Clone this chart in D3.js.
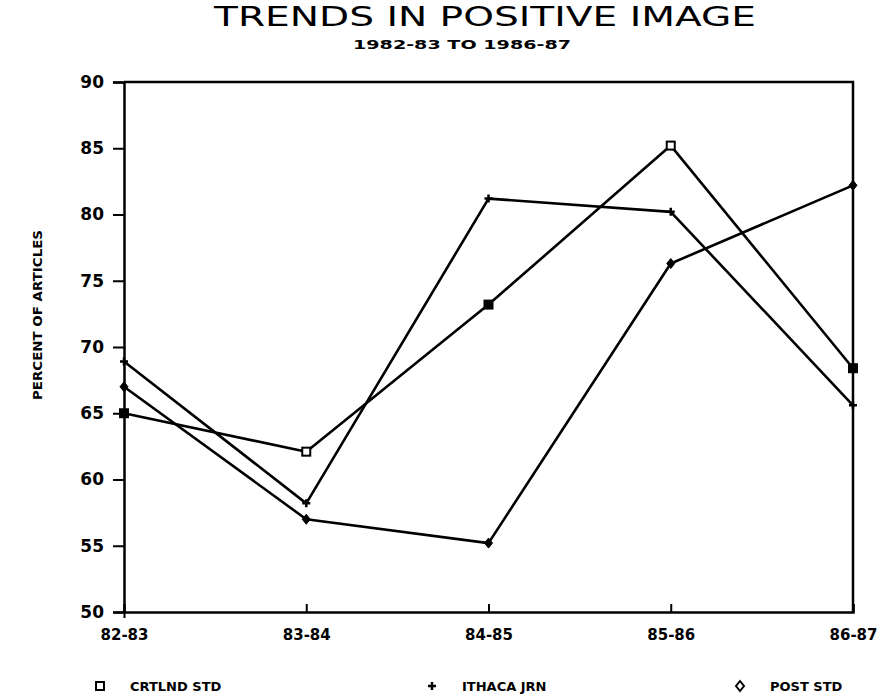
<!DOCTYPE html>
<html>
<head>
<meta charset="utf-8">
<script src="https://cdn.jsdelivr.net/npm/d3@7"></script>
<style>
body { margin: 0; background: #fff; }
</style>
</head>
<body>
<div id="chart"></div>
<script>
var years = ["82-83", "83-84", "84-85", "85-86", "86-87"];
var crtlnd = [65, 62.1, 73.2, 85.2, 68.4];
var ithaca = [68.9, 58.2, 81.2, 80.2, 65.6];
var post = [67, 57, 55.2, 76.3, 82.2];
var yTicks = [50, 55, 60, 65, 70, 75, 80, 85, 90];
var seriesNames = ["CRTLND STD", "ITHACA JRN", "POST STD"];

var w = 893, h = 700;
// plot box edges (not "top": window.top is taken)
var pLeft = 124, pRight = 853, pTop = 82, pBottom = 612;

var svg = d3.select("#chart").append("svg")
   .attr("width", w).attr("height", h);

var x = d3.scalePoint().domain(years).range([pLeft, pRight]);
var y = d3.scaleLinear().domain([50, 90]).range([pBottom, pTop]);

// title
svg.append("text").attr("x", 485).attr("y", 26).attr("text-anchor", "middle")
   .attr("font-family", "DejaVu Sans").attr("font-size", 27)
   .attr("textLength", 542).attr("lengthAdjust", "spacingAndGlyphs")
   .text("TRENDS IN POSITIVE IMAGE");
svg.append("text").attr("x", 462).attr("y", 49).attr("text-anchor", "middle")
   .attr("font-family", "DejaVu Sans").attr("font-weight", "bold").attr("font-size", 13)
   .attr("textLength", 218).attr("lengthAdjust", "spacingAndGlyphs")
   .text("1982-83 TO 1986-87");

// frame top + right
svg.append("path").attr("d", "M" + pLeft + "," + pTop + "H" + pRight + "V" + pBottom)
   .attr("fill", "none").attr("stroke", "#000").attr("stroke-width", 2.5);

// axes
var yAxis = svg.append("g").attr("transform", "translate(" + pLeft + ",0)")
   .call(d3.axisLeft(y).tickValues(yTicks).tickSize(11).tickPadding(9).tickFormat(d3.format("d")));
var xAxis = svg.append("g").attr("transform", "translate(0," + pBottom + ")")
   .call(d3.axisBottom(x).tickSize(-8).tickPadding(17));

svg.selectAll(".domain").attr("stroke-width", 2.5);
svg.selectAll(".tick line").attr("stroke-width", 2);
yAxis.selectAll("text").attr("font-family", "DejaVu Sans").attr("font-weight", "bold")
   .attr("font-size", 17).attr("fill", "#000");
xAxis.selectAll("text").attr("font-family", "DejaVu Sans").attr("font-weight", "bold")
   .attr("font-size", 15).attr("fill", "#000");
// 82-83 tick crosses below axis
xAxis.selectAll(".tick line").attr("y2", function(d, i) { return i == 0 ? 6 : -8; });

// y axis title
svg.append("text").attr("transform", "translate(42,315) rotate(-90)")
   .attr("text-anchor", "middle").attr("font-family", "DejaVu Sans").attr("font-weight", "bold")
   .attr("font-size", 13).attr("textLength", 170).attr("lengthAdjust", "spacingAndGlyphs")
   .text("PERCENT OF ARTICLES");

var line = d3.line().x(function(d, i) { return x(years[i]); }).y(function(d) { return y(d); });

[crtlnd, ithaca, post].forEach(function(s) {
   svg.append("path").datum(s).attr("d", line)
      .attr("fill", "none").attr("stroke", "#000").attr("stroke-width", 2.6)
      .attr("stroke-linejoin", "round");
});

// markers
function square(g, cx, cy, filled) {
   g.append("rect").attr("x", cx - 4).attr("y", cy - 4).attr("width", 8).attr("height", 8)
      .attr("fill", filled ? "#000" : "#fff").attr("stroke", "#000").attr("stroke-width", 2);
}
function plus(g, cx, cy) {
   g.append("path").attr("d", "M" + (cx - 4) + "," + cy + "h8M" + cx + "," + (cy - 4) + "v8")
      .attr("stroke", "#000").attr("stroke-width", 2.5);
}
function diamond(g, cx, cy, open) {
   g.append("path").attr("d", "M" + cx + "," + (cy - 5) + "l4,5l-4,5l-4,-5z")
      .attr("fill", open ? "#fff" : "#000").attr("stroke", "#000").attr("stroke-width", open ? 2 : 1);
}

var marks = svg.append("g");
// ink has filled in some of the open squares in the print
crtlnd.forEach(function(d, i) { square(marks, x(years[i]), y(d), i % 2 == 0); });
ithaca.forEach(function(d, i) { plus(marks, x(years[i]), y(d)); });
post.forEach(function(d, i) { diamond(marks, x(years[i]), y(d), false); });

// legend
var legend = svg.append("g");
var legX = [100, 432, 740];
var legSym = [square, plus, diamond];
seriesNames.forEach(function(n, i) {
   legSym[i](legend, legX[i], 686, i == 2);
   legend.append("text").attr("x", legX[i] + 30).attr("y", 691)
      .attr("font-family", "DejaVu Sans").attr("font-weight", "bold").attr("font-size", 13)
      .text(n);
});
</script>
</body>
</html>
